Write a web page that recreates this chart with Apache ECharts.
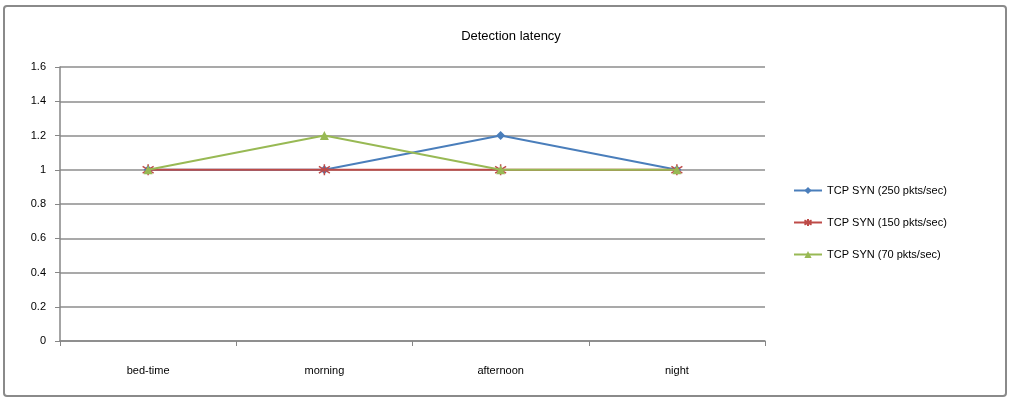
<!DOCTYPE html>
<html>
<head>
<meta charset="utf-8">
<script src="https://cdn.jsdelivr.net/npm/echarts@6/dist/echarts.min.js"></script>
<style>
  html, body { margin: 0; padding: 0; background: #fff; }
  #chart { width: 1011px; height: 403px; }
</style>
</head>
<body>
<div id="chart"></div>
<script>
// values
const categories = ['bed-time', 'morning', 'afternoon', 'night'];
const syn250 = [1, 1, 1.2, 1];
const syn150 = [1, 1, 1, 1];
const syn70 = [1, 1.2, 1, 1];
const seriesNames = ['TCP SYN (250 pkts/sec)', 'TCP SYN (150 pkts/sec)', 'TCP SYN (70 pkts/sec)'];

const font = 'Liberation Sans, Arial, sans-serif';
const starPath = 'path://M5 0 L5 10 M0 2 L10 8 M0 8 L10 2';

const chart = echarts.init(document.getElementById('chart'));

const option = {
  backgroundColor: '#fff',
  animation: false,
  title: {
    text: 'Detection latency',
    left: 506,
    textAlign: 'center',
    top: 25,
    textStyle: { fontFamily: font, fontSize: 13, fontWeight: 'normal', color: '#000' }
  },
  graphic: [{
    type: 'rect',
    shape: { x: 4, y: 6, width: 1002, height: 390, r: 3 },
    style: { fill: 'none', stroke: '#8a8a8a', lineWidth: 2 },
    z: -1
  }],
  legend: {
    orient: 'vertical',
    left: 788,
    top: 180,
    itemGap: 21,
    itemWidth: 28,
    itemHeight: 9,
    textStyle: { fontFamily: font, fontSize: 11, color: '#000' },
    data: seriesNames
  },
  grid: { left: 60, right: 246, top: 67, bottom: 62 },
  xAxis: {
    type: 'category',
    data: categories,
    boundaryGap: true,
    axisLine: { lineStyle: { color: '#868686', width: 1.5 } },
    axisTick: { show: true, alignWithLabel: false, length: 5, lineStyle: { color: '#868686' } },
    axisLabel: { margin: 24, fontFamily: font, fontSize: 11, color: '#000' }
  },
  yAxis: {
    type: 'value',
    min: 0,
    max: 1.6,
    interval: 0.2,
    axisLine: { show: true, lineStyle: { color: '#868686', width: 1.5 } },
    axisTick: { show: true, length: 5, lineStyle: { color: '#868686' } },
    axisLabel: { margin: 14, fontFamily: font, fontSize: 11, color: '#000',
      formatter: v => String(Math.round(v * 10) / 10) },
    splitLine: { lineStyle: { color: '#8c8c8c', width: 1.5 } }
  },
  series: [
    {
      name: seriesNames[0],
      type: 'line',
      data: syn250,
      color: '#4a7ebb',
      symbol: 'diamond',
      symbolSize: 9,
      lineStyle: { width: 1.8 },
      z: 2
    },
    {
      name: seriesNames[1],
      type: 'line',
      data: syn150,
      color: '#be4b48',
      symbol: starPath,
      symbolSize: 11,
      itemStyle: { borderColor: '#be4b48', borderWidth: 1.5 },
      lineStyle: { width: 2 },
      z: 3
    },
    {
      name: seriesNames[2],
      type: 'line',
      data: syn70,
      color: '#98b954',
      symbol: 'triangle',
      symbolSize: 9,
      lineStyle: { width: 1.8 },
      z: 4
    }
  ]
};

chart.setOption(option);
</script>
</body>
</html>
